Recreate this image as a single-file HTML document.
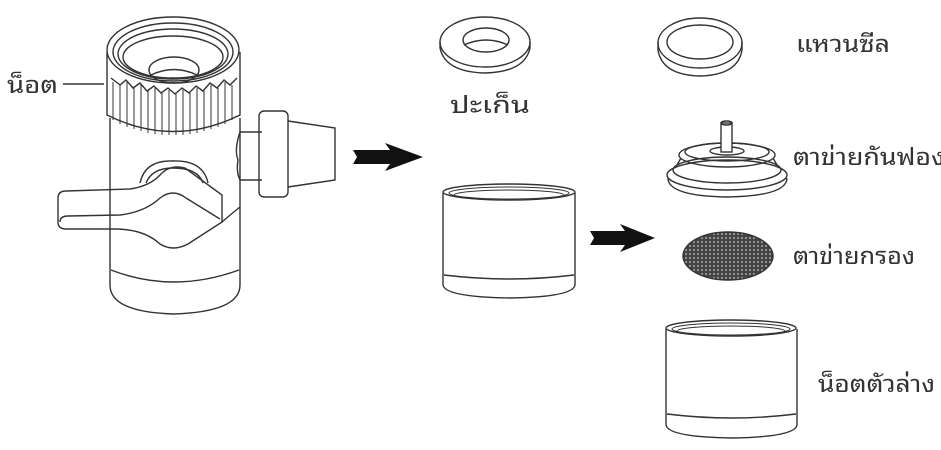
<!DOCTYPE html>
<html><head><meta charset="utf-8"><style>
html,body{margin:0;padding:0;background:#fff;width:941px;height:450px;overflow:hidden}
svg{display:block}
text{font-family:"Noto Sans Thai Looped","Norasi","Garuda","Loma","Kinnari","Tlwg Typo","Noto Serif Thai","Liberation Sans",sans-serif;fill:#333;stroke:none;font-size:24px;font-weight:normal}
</style></head><body>
<svg width="941" height="450" viewBox="0 0 941 450" fill="none" stroke="#333" stroke-width="1.4">
<defs>
<pattern id="mesh" width="4" height="4" patternUnits="userSpaceOnUse">
<rect width="4" height="4" fill="#444" stroke="none"/>
<circle cx="2" cy="2" r="1" fill="#aaa" stroke="none"/>
</pattern>
</defs>

<!-- Faucet body -->
<path d="M110,118 L110,285 Q110,312 173,314 Q240,312 240,285 L240,118"/>
<path d="M111,270 Q173,294 239,270"/>
<!-- nut -->
<path d="M107,52 L107,115 Q173,148 240,115 L240,52"/>
<ellipse cx="173" cy="50" rx="66" ry="33"/>
<ellipse cx="173" cy="52" rx="60" ry="29"/>
<ellipse cx="173" cy="54" rx="55" ry="25"/>
<ellipse cx="173" cy="57" rx="50" ry="21"/>
<ellipse cx="174" cy="70" rx="25" ry="13"/>
<path d="M151,75 Q174,64 197,75"/>
<path d="M111,78 L120,85 L126,80 L133,88 L140,83 L147,91 L154,86 L161,93 L168,88 L175,94 L182,88 L189,93 L196,86 L203,91 L210,83 L217,88 L224,80 L230,85 L237,78"/>
<g stroke-width="1">
<path d="M113,82V120M120,85V124M127,82V127M134,88V129M141,85V131M148,91V133M155,88V134M162,93V135M169,90V135M176,94V135M183,90V135M190,93V134M197,88V133M204,91V131M211,85V129M218,88V127M225,82V124M232,85V120"/>
</g>
<!-- knob + lever -->
<path d="M140,183 Q145,160 173,161 Q203,160 208,183"/>
<path d="M146,183 Q152,168 173,168 Q198,168 203,183"/>
<path d="M58,198 Q58,191 66,191 L130,189 Q150,186 160,175 Q170,164 185,168 L222,195 L222,222 Q230,215 240,207"/>
<path d="M58,198 L58,222 Q58,229 66,229 L118,229 Q145,230 160,244 Q173,252 188,244 L222,222"/>
<path d="M60,222 Q60,216 68,216 L120,215 Q145,212 160,198 Q173,188 186,198 L220,219"/>
<!-- side outlet -->
<path d="M240,132 L262,132 M240,180 L262,180"/>
<path d="M240,132 Q234,150 238,160 Q236,172 240,180"/>
<rect x="259" y="111" width="29" height="86" rx="5"/>
<path d="M288,121 L335,128 L335,180 L288,187"/>
<!-- label nut -->
<text x="7" y="93" textLength="51" lengthAdjust="spacingAndGlyphs">น็อต</text>
<line x1="63" y1="84" x2="104" y2="84"/>

<!-- arrows -->
<path d="M353,150 L390,150 L385,143 L423,157 L385,171 L390,164 L353,164 L357,157 Z" fill="#111" stroke="none"/>
<path d="M590,231 L625,231 L620,224 L655,238 L620,252 L625,245 L590,245 L594,238 Z" fill="#111" stroke="none"/>

<!-- gasket -->
<path d="M440,42 L440,48 Q445,72 485,73 Q525,72 530,48 L530,42"/>
<ellipse cx="485" cy="42" rx="45" ry="25"/>
<ellipse cx="486" cy="40" rx="23" ry="12"/>
<path d="M464,45 Q486,35 508,45"/>
<text x="450" y="113" textLength="80" lengthAdjust="spacingAndGlyphs">ปะเก็น</text>

<!-- middle cylinder -->
<path d="M443,193 L443,285 Q445,297 510,298 Q573,297 575,285 L575,193"/>
<path d="M444,275 Q510,283 574,275"/>
<ellipse cx="509" cy="192" rx="66" ry="8"/>
<ellipse cx="509" cy="193" rx="60" ry="6" stroke-width="1"/>
<ellipse cx="509" cy="195" rx="55" ry="5" stroke-width="1"/>

<!-- seal ring -->
<path d="M658,42 L658,50 Q662,75 700,76 Q738,75 742,50 L742,42"/>
<ellipse cx="700" cy="43" rx="42" ry="25"/>
<ellipse cx="700" cy="42" rx="33" ry="17"/>
<text x="796" y="52" textLength="94" lengthAdjust="spacingAndGlyphs">แหวนซีล</text>

<!-- aerator -->
<path d="M668,178 Q668,196 727,197 Q787,196 787,178"/>
<ellipse cx="727" cy="175" rx="60" ry="15"/>
<ellipse cx="727" cy="170" rx="54" ry="13"/>
<path d="M677,165 L681,158 M777,165 L773,158"/>
<ellipse cx="727" cy="155" rx="48" ry="12"/>
<ellipse cx="727" cy="152" rx="42" ry="9"/>
<ellipse cx="727" cy="151" rx="17" ry="4"/>
<rect x="721" y="123" width="11" height="29" fill="#fff"/>
<ellipse cx="726.5" cy="123" rx="5.5" ry="2"/>
<text x="793" y="165" textLength="152" lengthAdjust="spacingAndGlyphs">ตาข่ายกันฟอง</text>

<!-- mesh -->
<ellipse cx="728" cy="256" rx="45" ry="24" fill="url(#mesh)"/>
<text x="793" y="264" textLength="122" lengthAdjust="spacingAndGlyphs">ตาข่ายกรอง</text>

<!-- bottom cylinder -->
<path d="M666,329 L666,425 Q668,437 732,438 Q795,437 797,425 L797,329"/>
<path d="M667,414 Q732,422 796,414"/>
<ellipse cx="731" cy="328" rx="65" ry="8"/>
<ellipse cx="731" cy="329" rx="59" ry="6" stroke-width="1"/>
<ellipse cx="731" cy="331" rx="54" ry="5" stroke-width="1"/>
<text x="818" y="392" textLength="117" lengthAdjust="spacingAndGlyphs">น็อตตัวล่าง</text>
</svg>
</body></html>
